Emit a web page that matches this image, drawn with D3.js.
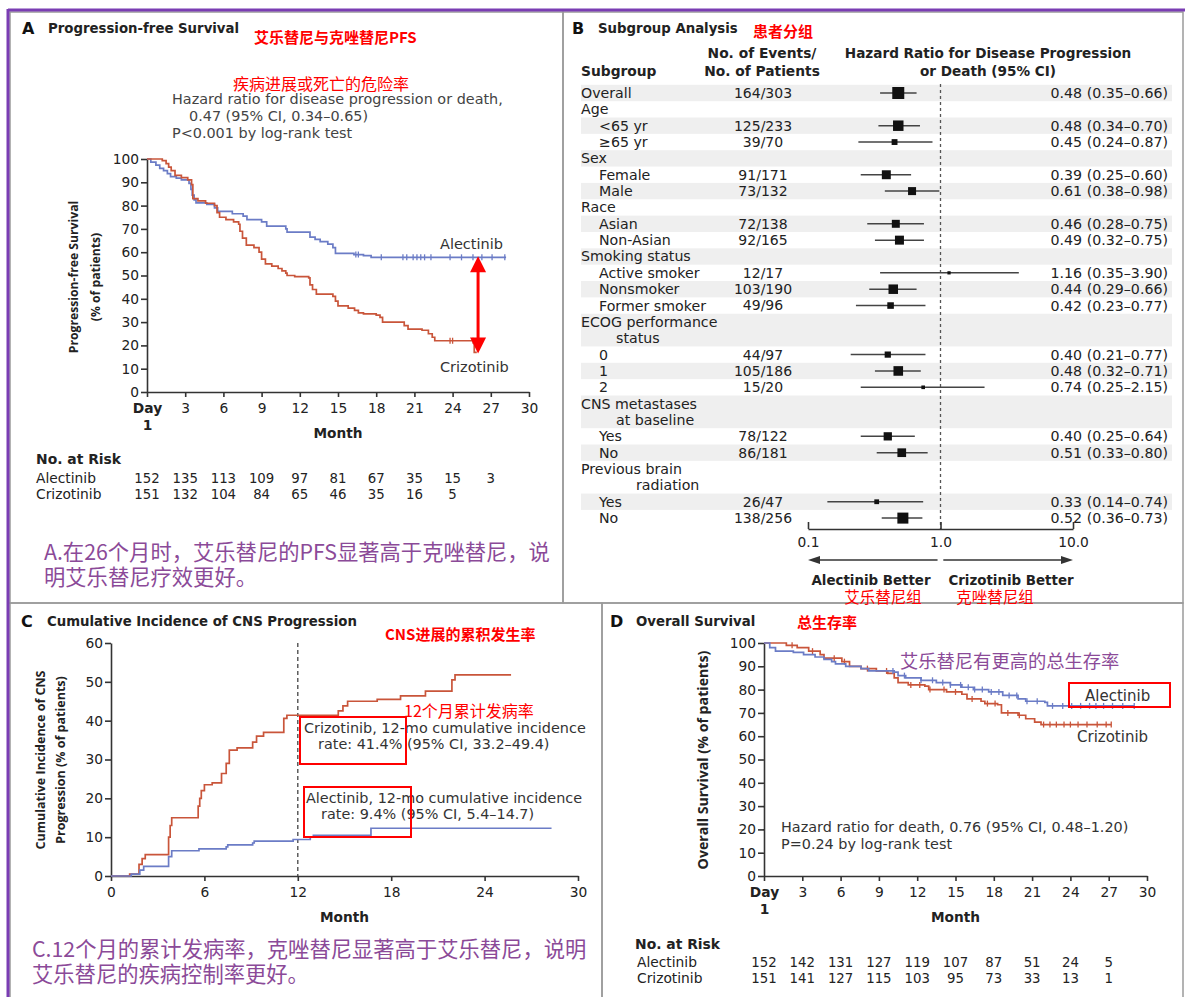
<!DOCTYPE html>
<html><head><meta charset="utf-8">
<script src="https://cdn.jsdelivr.net/npm/d3@7"></script>
<style>
body{margin:0;background:#fff}
svg{display:block}
text{font-family:'DejaVu Sans','Noto Sans CJK SC',sans-serif;fill:#222}
.cjk{font-family:'Noto Sans CJK SC',sans-serif}
.os{font-family:'Open Sans',sans-serif}
</style></head>
<body><svg id="c" width="1185" height="997"></svg>
<script>
// ---------------- DATA ----------------
// Panel A – progression-free survival (month, % of patients)
const pfsAlectinib=[[0,100],[0.3,98.7],[0.7,97.4],[1.0,96],[1.3,95],[1.6,93.7],[1.85,92.4],[2.3,91.8],[2.7,91],[3.3,89.5],[3.45,87],[3.55,84.5],[3.7,82.5],[3.85,81.2],[4.7,80.5],[5.3,79],[5.55,77.5],[6.7,76.5],[7.55,75.5],[7.85,74],[9.0,73],[9.4,71.2],[10.9,70],[11.0,68.6],[12.8,66.5],[13.2,65.5],[13.6,64.5],[14.2,63.5],[14.6,62],[14.8,59.5],[16.25,59],[17.0,58.5],[17.6,57.8],[28.2,57.8]];
const pfsCrizotinib=[[0,100],[1.2,99.3],[1.5,98],[1.7,96.5],[1.9,95],[2.2,93],[2.7,92],[3.2,91],[3.5,89],[3.6,83],[4.0,82],[4.6,81],[5.3,80],[5.5,77],[5.7,75],[6.2,74],[6.8,73],[7.2,72],[7.3,69],[7.5,66],[7.8,63],[8.4,62],[8.8,60],[9.0,57],[9.3,55],[9.8,54],[10.3,53],[10.6,52],[10.9,51],[11.0,50],[11.6,49.5],[12.7,49],[12.8,46],[13.0,44],[13.3,42],[14.6,41],[14.8,39],[15.0,37],[15.8,36],[16.3,35],[16.6,34],[17.0,33.5],[18.0,33],[18.3,32],[18.5,30],[20.2,28.5],[20.5,27],[21.6,26.5],[22.1,25],[22.4,23.5],[22.6,22],[25.7,17],[25.9,17]];
const pfsCensorAlectinib=[16.4,16.6,18.4,20.1,20.4,20.9,21.2,21.5,21.8,22.3,23.8,24.7,25.6,26.3,27.1,28.1];
const pfsCensorCrizotinib=[23.8,24.0,25.6];
const riskMonths=[0,3,6,9,12,15,18,21,24,27];
const pfsRiskAlectinib=[152,135,113,109,97,81,67,35,15,3];
const pfsRiskCrizotinib=[151,132,104,84,65,46,35,16,5];

// Panel B – subgroup analysis
const subgroupLabels=["Overall","Age","<65 yr","≥65 yr","Sex","Female","Male","Race","Asian","Non-Asian","Smoking status","Active smoker","Nonsmoker","Former smoker","ECOG performance|status","0","1","2","CNS metastases|at baseline","Yes","No","Previous brain|radiation","Yes","No"];
const subgroupIndent=[0,0,1,1,0,1,1,0,1,1,0,1,1,1,0,1,1,1,0,1,1,0,1,1];
const eventsPatients=["164/303","","125/233","39/70","","91/171","73/132","","72/138","92/165","","12/17","103/190","49/96","","44/97","105/186","15/20","","78/122","86/181","","26/47","138/256"];
const hrPoint=[0.48,null,0.48,0.45,null,0.39,0.61,null,0.46,0.49,null,1.16,0.44,0.42,null,0.40,0.48,0.74,null,0.40,0.51,null,0.33,0.52];
const hrLow=[0.35,null,0.34,0.24,null,0.25,0.38,null,0.28,0.32,null,0.35,0.29,0.23,null,0.21,0.32,0.25,null,0.25,0.33,null,0.14,0.36];
const hrHigh=[0.66,null,0.70,0.87,null,0.60,0.98,null,0.75,0.75,null,3.90,0.66,0.77,null,0.77,0.71,2.15,null,0.64,0.80,null,0.74,0.73];
const hrTicks=[0.1,1.0,10.0];

// Panel C – cumulative incidence of CNS progression
const cnsCrizotinib=[[0,0],[1.2,0.5],[1.8,3],[2.0,4.5],[2.2,5.5],[3.7,10],[3.8,13],[3.9,15],[5.6,18],[5.7,20],[5.8,22],[6.0,23.5],[6.5,24],[7.1,26.4],[7.4,29],[7.6,32.4],[8.1,33],[9.1,34.5],[9.35,36],[9.8,37],[11.1,40.6],[11.3,41.4],[14.6,42.5],[14.9,43.8],[15.2,45],[17.1,45.5],[18.6,46.4],[20.2,47.6],[21.9,50.5],[22.1,51.8],[25.7,51.8]];
const cnsAlectinib=[[0,0],[1.3,0.5],[1.85,1.5],[2.1,2.5],[3.7,5],[3.9,6.5],[5.65,7],[7.4,7.5],[7.5,8],[9.1,8.5],[9.2,9],[11.7,9.4],[12.8,10],[13.0,10.5],[16.7,12.3],[28.3,12.3]];

// Panel D – overall survival
const osAlectinib=[[0,100],[0.45,98],[0.9,96.5],[2.3,96],[3.1,95],[4.0,94],[4.7,93],[5.3,92],[5.6,91],[6.4,90],[7.6,89],[8.2,88],[10.2,87.5],[10.5,86],[11.1,85],[12.3,84],[13.5,83],[14.6,82],[15.5,81],[16.4,80],[17.6,79],[18.7,77.5],[19.9,76],[20.5,75],[22.0,74.5],[22.2,73],[29.0,73]];
const osCrizotinib=[[0,100],[0.6,100],[1.75,99],[2.6,98],[3.5,96.5],[4.4,95],[4.7,93.5],[6.1,92],[6.7,90],[7.6,89],[8.8,88],[9.7,87],[10.2,85],[10.5,83],[11.3,82],[12.6,81.5],[12.9,80],[14.3,79],[15.5,78],[15.9,76],[17.0,75],[17.3,74],[18.3,73.5],[18.6,70],[19.9,69],[20.5,67.5],[21.2,66],[21.7,65],[27.2,65]];
const osCensorAlectinib=[10.1,11.0,12.3,13.2,14.0,14.6,15.4,16.0,16.5,17.1,17.8,18.4,19.2,19.8,20.6,21.4,22.6,23.4,24.1,24.8,25.5,26.0,26.6,27.3,28.1,29.0];
const osCensorCrizotinib=[2.2,3.8,5.5,6.3,8.1,9.6,11.5,12.2,13.0,14.1,15.0,16.3,17.5,18.1,19.1,20.0,21.9,22.4,22.9,23.5,24.0,24.6,25.3,26.1,26.8,27.2];
const osRiskAlectinib=[152,142,131,127,119,107,87,51,24,5];
const osRiskCrizotinib=[151,141,127,115,103,95,73,33,13,1];

const kmTicks=[0,3,6,9,12,15,18,21,24,27,30];
const cnsTicks=[0,6,12,18,24,30];

// ---------------- STYLE ----------------
const BLUE="#6b7cc6", RED="#c9553a", AXIS="#333", PURPLE_TXT="#8b4a98", RED_NOTE="#ff0000";
const NOTE=14.4;
const svg=d3.select("#c");

svg.append("rect").attr("x",0).attr("y",0).attr("width",1185).attr("height",997).attr("fill","#fff");
const frame=svg.append("g").attr("fill","none").attr("stroke","#9a9a9a").attr("stroke-width",1.5);
frame.append("rect").attr("x",10).attr("y",12).attr("width",553).attr("height",591);
frame.append("rect").attr("x",563).attr("y",12).attr("width",620).attr("height",591);
frame.append("rect").attr("x",10).attr("y",603).attr("width",592).attr("height",396);
frame.append("rect").attr("x",602).attr("y",603).attr("width",581).attr("height",396);
svg.append("line").attr("x1",8).attr("x2",1185).attr("y1",10).attr("y2",10).attr("stroke","#7a3db3").attr("stroke-width",3);
svg.append("line").attr("x1",8).attr("x2",8).attr("y1",9).attr("y2",997).attr("stroke","#7a3db3").attr("stroke-width",3);

function txt(x,y,s,o={}){
  const t=svg.append("text").attr("x",x).attr("y",y).attr("dy","0.35em").text(s)
    .attr("font-size",o.size||13).attr("font-weight",o.weight||400)
    .attr("text-anchor",o.anchor||"start").style("fill",o.fill||"#222");
  if(o.cls) t.attr("class",o.cls);
  return t;
}
// multi-line paragraph as one text element
function para(x,y,lines,lh,o={}){
  const t=svg.append("text").attr("x",x).attr("y",y).attr("font-size",o.size||13)
    .attr("font-weight",o.weight||400).style("fill",o.fill||"#222");
  if(o.cls) t.attr("class",o.cls);
  lines.forEach((l,i)=>t.append("tspan").attr("x",x).attr("dy",i===0?"0.35em":lh).text(l));
  return t;
}
function panelTitle(x,y,letter,title){
  txt(x,y,letter,{size:16,weight:700,fill:"#111"});
  txt(x+26,y,title,{size:13.3,weight:700,fill:"#222"});
}
function stepAt(data,t){let v=data[0][1];for(const d of data){if(d[0]<=t)v=d[1];else break;}return v;}

function styleAxis(sel){
  sel.select(".domain").attr("stroke",AXIS).attr("stroke-width",1.6);
  sel.selectAll(".tick line").attr("stroke",AXIS).attr("stroke-width",1.6);
  sel.selectAll(".tick text").attr("font-size",13.8).style("fill","#222").attr("font-family","'DejaVu Sans',sans-serif");
}

function drawKM(x,y,yTicks,xTicks,dayLabel,series){
  const ya=d3.axisLeft(y).tickValues(yTicks).tickSize(6).tickSizeOuter(0).tickPadding(2);
  svg.append("g").attr("transform",`translate(${x.range()[0]},0)`).call(ya).call(styleAxis);
  const xa=d3.axisBottom(x).tickValues(xTicks).tickSize(5).tickSizeOuter(0).tickPadding(6)
    .tickFormat(d=> (d===0&&dayLabel)?"Day":String(d));
  const gx=svg.append("g").attr("transform",`translate(0,${y.range()[0]})`).call(xa).call(styleAxis);
  if(dayLabel){
    const t0=gx.selectAll(".tick text").filter(d=>d===0).attr("font-weight",700).text(null);
    t0.append("tspan").attr("x",0).text("Day");
    t0.append("tspan").attr("x",0).attr("dy","1.25em").text("1");
  }
  const line=d3.line().x(d=>x(d[0])).y(d=>y(d[1])).curve(d3.curveStepAfter);
  series.forEach(s=>{
    svg.append("path").datum(s.data).attr("d",line).attr("fill","none").attr("stroke",s.color).attr("stroke-width",1.7);
    if(s.censor){
      svg.append("g").selectAll("line").data(s.censor).join("line")
        .attr("x1",d=>x(d)).attr("x2",d=>x(d))
        .attr("y1",d=>y(stepAt(s.data,d))-3).attr("y2",d=>y(stepAt(s.data,d))+3)
        .attr("stroke",s.color).attr("stroke-width",1.3);
    }
  });
}
function riskTable(x,labelX,rows){
  rows.forEach(r=>{
    txt(labelX,r.y,r.name,{size:13.8,fill:"#222"});
    svg.append("g").selectAll("text").data(r.values).join("text")
      .attr("x",(d,i)=>x(riskMonths[i])).attr("y",r.y).attr("dy","0.35em")
      .attr("text-anchor","middle").attr("font-size",13.3).style("fill","#222").text(d=>d);
  });
}
function yTitle(x,y,s,size){
  svg.append("text").attr("class","os").attr("transform",`translate(${x},${y}) rotate(-90)`).attr("text-anchor","middle").attr("dy","0.35em")
    .attr("font-size",size).attr("font-weight",700).style("fill","#222").text(s);
}

// ---------------- PANEL A ----------------
panelTitle(22,28,"A","Progression-free Survival");
txt(254,38,"艾乐替尼与克唑替尼PFS",{size:15,weight:700,fill:RED_NOTE,cls:"cjk"});
txt(233,84,"疾病进展或死亡的危险率",{size:16,fill:RED_NOTE,cls:"cjk"});
para(172,99,["Hazard ratio for disease progression or death,"],17,{size:NOTE,fill:"#444"});
svg.select("text:last-of-type");
{
  const t=svg.append("text").attr("font-size",NOTE).style("fill","#444");
  t.append("tspan").attr("x",189).attr("y",116).attr("dy","0.35em").text("0.47 (95% CI, 0.34–0.65)");
  t.append("tspan").attr("x",172).attr("y",133).attr("dy","0.35em").text("P<0.001 by log-rank test");
}
const xA=d3.scaleLinear().domain([0,30]).range([147,529]);
const yA=d3.scaleLinear().domain([0,100]).range([392,159]);
drawKM(xA,yA,d3.range(0,101,10),kmTicks,true,[
  {data:pfsAlectinib,color:BLUE,censor:pfsCensorAlectinib},
  {data:pfsCrizotinib,color:RED,censor:pfsCensorCrizotinib}]);
yTitle(74,277,"Progression-free Survival",12.2);
yTitle(96,277,"(% of patients)",12.2);
txt(xA(15),433,"Month",{size:13.7,weight:700,anchor:"middle"});
txt(440,244,"Alectinib",{size:14.5,fill:"#333"});
txt(440,367,"Crizotinib",{size:14.5,fill:"#333"});
{
  const ax=xA(26), yTop=yA(stepAt(pfsAlectinib,26)), yBot=yA(pfsCrizotinib[pfsCrizotinib.length-1][1]);
  svg.append("line").attr("x1",ax).attr("x2",ax).attr("y1",yTop+12).attr("y2",yBot-12).attr("stroke",RED_NOTE).attr("stroke-width",3);
  svg.append("path").attr("d",`M${ax},${yTop-1}L${ax-8},${yTop+15}L${ax+8},${yTop+15}Z`).attr("fill",RED_NOTE);
  svg.append("path").attr("d",`M${ax},${yBot+1}L${ax-8},${yBot-15}L${ax+8},${yBot-15}Z`).attr("fill",RED_NOTE);
}
txt(36,459,"No. at Risk",{size:13.9,weight:700});
riskTable(xA,36,[{name:"Alectinib",y:478,values:pfsRiskAlectinib},{name:"Crizotinib",y:494,values:pfsRiskCrizotinib}]);
para(44,553,["A.在26个月时，艾乐替尼的PFS显著高于克唑替尼，说","明艾乐替尼疗效更好。"],25,{size:21.3,fill:PURPLE_TXT,cls:"cjk"});

// ---------------- PANEL B ----------------
panelTitle(572,28,"B","Subgroup Analysis");
txt(753,32,"患者分组",{size:15,weight:700,fill:RED_NOTE,cls:"cjk"});
txt(581,71,"Subgroup",{size:13.8,weight:700});
para(762,53,["No. of Events/","No. of Patients"],18,{size:13.8,weight:700}).attr("text-anchor","middle");
para(988,53,["Hazard Ratio for Disease Progression","or Death (95% CI)"],18,{size:13.6,weight:700}).attr("text-anchor","middle");
const xHR=d3.scaleLog().domain([0.1,10]).range([808,1073]);
const boxSize=d3.scaleSqrt().domain([0,164]).range([0,12]);
const rowY0=93, pitch=16.35;
{
  let line=0;
  const rows=subgroupLabels.map((lab,i)=>{
    const parts=lab.split("|"); const r={i,parts,line,n:parts.length}; line+=parts.length; return r;});
  const gBand=svg.append("g");
  rows.forEach(r=>{
    if(r.i%2===0) gBand.append("rect").attr("x",581).attr("width",591)
      .attr("y",rowY0+r.line*pitch-pitch/2).attr("height",r.n*pitch).attr("fill","#efefef");
  });
  svg.append("line").attr("x1",xHR(1)).attr("x2",xHR(1)).attr("y1",84).attr("y2",529)
    .attr("stroke","#555").attr("stroke-width",1.3).attr("stroke-dasharray","3,3");
  rows.forEach(r=>{
    const y=rowY0+r.line*pitch;
    const ind=subgroupIndent[r.i]?18:0;
    if(r.n===1) txt(581+ind,y,r.parts[0],{size:14.2});
    else {
      const t=svg.append("text").attr("font-size",14.2).style("fill","#222");
      r.parts.forEach((p,k)=>t.append("tspan").attr("x",581+ind+(k>0?(r.i===21?55:35):0)).attr("y",y+k*pitch).attr("dy","0.35em").text(p));
    }
    if(eventsPatients[r.i]) txt(763,y,eventsPatients[r.i],{size:14,anchor:"middle"});
    if(hrPoint[r.i]!=null){
      svg.append("line").attr("x1",xHR(hrLow[r.i])).attr("x2",xHR(hrHigh[r.i])).attr("y1",y).attr("y2",y)
        .attr("stroke","#444").attr("stroke-width",1.5);
      const ev=+eventsPatients[r.i].split("/")[0]; const s=Math.max(3,boxSize(ev));
      svg.append("rect").attr("x",xHR(hrPoint[r.i])-s/2).attr("y",y-s/2).attr("width",s).attr("height",s).attr("fill","#111");
      txt(1168,y,`${hrPoint[r.i].toFixed(2)} (${hrLow[r.i].toFixed(2)}–${hrHigh[r.i].toFixed(2)})`,{size:14.2,anchor:"end"});
    }
  });
}
{
  const ax=d3.axisBottom(xHR).tickValues(hrTicks).tickSize(-7).tickSizeOuter(0).tickPadding(8).tickFormat(d3.format(".1f"));
  svg.append("g").attr("transform","translate(0,529)").call(ax).call(styleAxis);
  const ay=560;
  svg.append("line").attr("x1",xHR(0.95)).attr("x2",xHR(0.1)+10).attr("y1",ay).attr("y2",ay).attr("stroke","#333").attr("stroke-width",1.5);
  svg.append("path").attr("d",`M${xHR(0.1)},${ay}L${xHR(0.1)+12},${ay-4}L${xHR(0.1)+12},${ay+4}Z`).attr("fill","#333");
  svg.append("line").attr("x1",xHR(1.05)).attr("x2",xHR(10)-10).attr("y1",ay).attr("y2",ay).attr("stroke","#333").attr("stroke-width",1.5);
  svg.append("path").attr("d",`M${xHR(10)},${ay}L${xHR(10)-12},${ay-4}L${xHR(10)-12},${ay+4}Z`).attr("fill","#333");
  txt(871,580,"Alectinib Better",{size:13.4,weight:700,anchor:"middle"});
  txt(1011,580,"Crizotinib Better",{size:13.4,weight:700,anchor:"middle"});
  txt(883,598,"艾乐替尼组",{size:15.5,fill:RED_NOTE,anchor:"middle",cls:"cjk"});
  txt(995,598,"克唑替尼组",{size:15.5,fill:RED_NOTE,anchor:"middle",cls:"cjk"});
}

// ---------------- PANEL C ----------------
panelTitle(21,621,"C","Cumulative Incidence of CNS Progression");
txt(385,635,"CNS进展的累积发生率",{size:15,weight:700,fill:RED_NOTE,cls:"cjk"});
const xC=d3.scaleLinear().domain([0,30]).range([111,578]);
const yC=d3.scaleLinear().domain([0,60]).range([876,643]);
svg.append("line").attr("x1",xC(12)).attr("x2",xC(12)).attr("y1",yC(60)).attr("y2",yC(0))
  .attr("stroke","#444").attr("stroke-width",1.3).attr("stroke-dasharray","4,3");
drawKM(xC,yC,d3.range(0,61,10),cnsTicks,false,[
  {data:cnsCrizotinib,color:RED},{data:cnsAlectinib,color:BLUE}]);
yTitle(41,760,"Cumulative Incidence of CNS",12.5);
yTitle(61,760,"Progression (% of patients)",12.5);
txt(xC(15),917,"Month",{size:13.7,weight:700,anchor:"middle"});
{
  const t1=svg.append("text").attr("font-size",NOTE).style("fill","#333");
  t1.append("tspan").attr("x",304).attr("y",728).attr("dy","0.35em").text("Crizotinib, 12-mo cumulative incidence");
  t1.append("tspan").attr("x",318).attr("y",744).attr("dy","0.35em").text("rate: 41.4% (95% CI, 33.2–49.4)");
  const t2=svg.append("text").attr("font-size",NOTE).style("fill","#333");
  t2.append("tspan").attr("x",306).attr("y",798).attr("dy","0.35em").text("Alectinib, 12-mo cumulative incidence");
  t2.append("tspan").attr("x",321).attr("y",814).attr("dy","0.35em").text("rate: 9.4% (95% CI, 5.4–14.7)");
}
svg.append("rect").attr("x",300).attr("y",717).attr("width",106).attr("height",47).attr("fill","none").attr("stroke",RED_NOTE).attr("stroke-width",2);
svg.append("rect").attr("x",304).attr("y",787).attr("width",107).attr("height",50).attr("fill","none").attr("stroke",RED_NOTE).attr("stroke-width",2);
txt(404,711,"12个月累计发病率",{size:16,fill:RED_NOTE,cls:"cjk"});
para(32,950,["C.12个月的累计发病率，克唑替尼显著高于艾乐替尼，说明","艾乐替尼的疾病控制率更好。"],25,{size:21.3,fill:PURPLE_TXT,cls:"cjk"});

// ---------------- PANEL D ----------------
panelTitle(610,621,"D","Overall Survival");
txt(797,623,"总生存率",{size:15,weight:700,fill:RED_NOTE,cls:"cjk"});
const xD=d3.scaleLinear().domain([0,30]).range([764,1147]);
const yD=d3.scaleLinear().domain([0,100]).range([876,643]);
drawKM(xD,yD,d3.range(0,101,10),kmTicks,true,[
  {data:osCrizotinib,color:RED,censor:osCensorCrizotinib},
  {data:osAlectinib,color:BLUE,censor:osCensorAlectinib}]);
yTitle(703,760,"Overall Survival (% of patients)",14.2);
txt(xD(15),917,"Month",{size:13.7,weight:700,anchor:"middle"});
txt(900,662,"艾乐替尼有更高的总生存率",{size:18.3,fill:PURPLE_TXT,cls:"cjk"});
txt(1085,696,"Alectinib",{size:15,fill:"#333"});
svg.append("rect").attr("x",1069).attr("y",683).attr("width",101).attr("height",24).attr("fill","none").attr("stroke",RED_NOTE).attr("stroke-width",2);
txt(1077,737,"Crizotinib",{size:15,fill:"#333"});
para(781,827,["Hazard ratio for death, 0.76 (95% CI, 0.48–1.20)","P=0.24 by log-rank test"],17,{size:NOTE,fill:"#333"});
txt(635,944,"No. at Risk",{size:13.9,weight:700});
riskTable(xD,637,[{name:"Alectinib",y:962,values:osRiskAlectinib},{name:"Crizotinib",y:978,values:osRiskCrizotinib}]);
</script>
</body></html>
